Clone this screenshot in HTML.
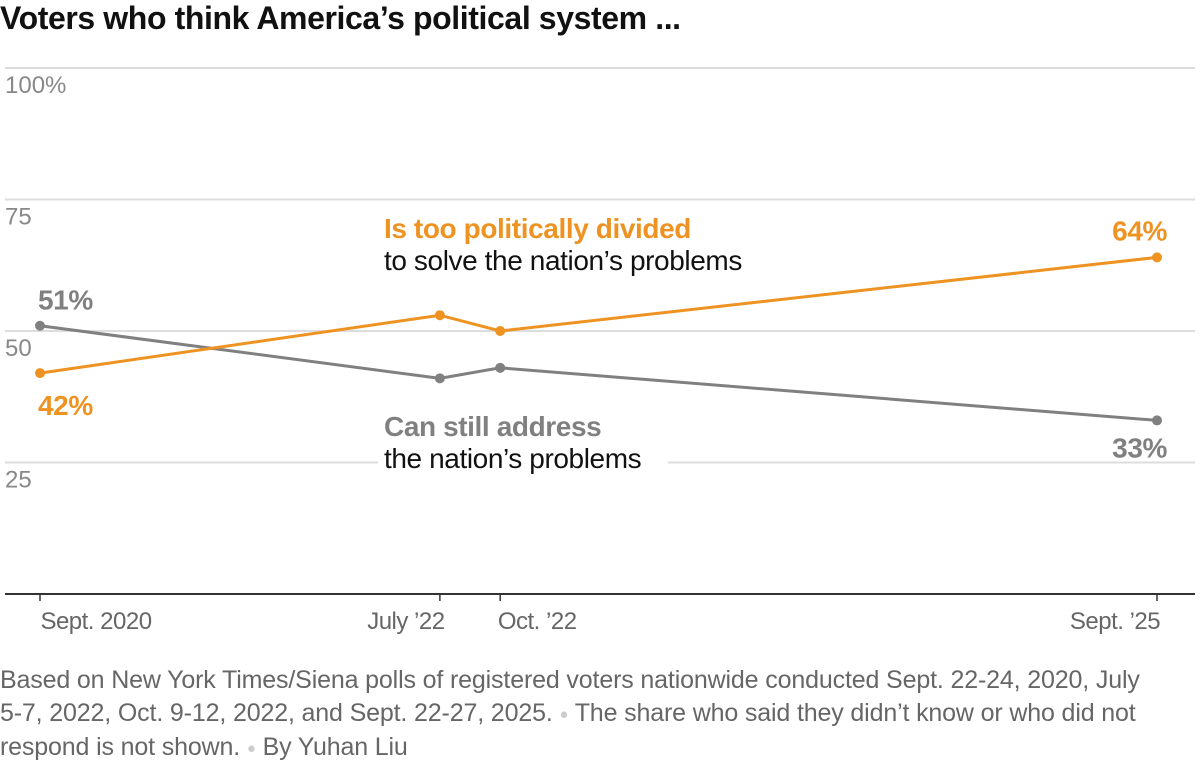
<!DOCTYPE html>
<html><head><meta charset="utf-8"><style>
body{margin:0;background:#fff;width:1200px;height:776px;overflow:hidden;font-family:"Liberation Sans",sans-serif;}
#title{position:absolute;left:0;top:0px;font-size:32px;font-weight:bold;color:#111;letter-spacing:-0.4px;}
#note{position:absolute;left:0;top:664px;white-space:nowrap;font-size:25px;line-height:32.5px;color:#666;letter-spacing:-0.15px;}
.dot{color:#ccc;font-size:15px;vertical-align:2px;}
</style></head><body>
<div id="title">Voters who think America’s political system ...</div>
<svg id="chart" width="1200" height="660" style="position:absolute;left:0;top:0"></svg>
<div id="note">Based on New York Times/Siena polls of registered voters nationwide conducted Sept. 22-24, 2020, July<br>5-7, 2022, Oct. 9-12, 2022, and Sept. 22-27, 2025. <span class="dot">●</span> The share who said they didn’t know or who did not<br>respond is not shown. <span class="dot">●</span> By Yuhan Liu</div>
<script>
const dates=[2020.72,2022.51,2022.78,2025.72];
const xLabels=["Sept. 2020","July ’22","Oct. ’22","Sept. ’25"];
const divided=[42,53,50,64];
const address=[51,41,43,33];
const yTicks=[25,50,75,100];
const yTickLabels=["25","50","75","100%"];
const svg=document.getElementById('chart');
const NS='http://www.w3.org/2000/svg';
const x=d=>40+(d-2020.72)/(2025.72-2020.72)*1117;
const y=v=>594-v*5.26;
function mk(t,a,p){const e=document.createElementNS(NS,t);for(const k in a)e.setAttribute(k,a[k]);(p||svg).appendChild(e);return e;}
yTicks.forEach((t,i)=>{
 const g=mk('line',{x1:5,x2:1195,y1:y(t),y2:y(t),stroke:'#ddd','stroke-width':2});
 
 
 const l=mk('text',{x:5,y:y(t)+25,'font-size':24,fill:'#888'});
 l.textContent=yTickLabels[i];
 
 
});
const base=mk('line',{x1:5,x2:1195,y1:594,y2:594,stroke:'#333','stroke-width':2});


const offs=[56,-34,37,-42];
dates.forEach((d,i)=>{
 const tk=mk('line',{x1:x(d),x2:x(d),y1:594,y2:601,stroke:'#333','stroke-width':1.5});
 
 
 const t=mk('text',{x:x(d)+offs[i],y:629,'font-size':24,fill:'#666','text-anchor':'middle','letter-spacing':-0.5});
 t.textContent=xLabels[i];
 
 
});
function txt(s,xx,yy,col,bold,name){const t=mk('text',{x:xx,y:yy,'font-size':28,'font-weight':bold?'bold':'normal',fill:col,'letter-spacing':-0.4});t.textContent=s;return t;}
const m=mk('rect',{x:378,y:440,width:290,height:36,fill:'#fff'});


function series(vals,col,name){
 const p=mk('polyline',{points:vals.map((v,i)=>x(dates[i])+','+y(v)).join(' '),fill:'none',stroke:col,'stroke-width':3});
 
 
 vals.forEach((v,i)=>{const c=mk('circle',{cx:x(dates[i]),cy:y(v),r:5,fill:col});
  
  });
}
series(address,'#808080','address');
series(divided,'#ee9322','divided');
txt('Is too politically divided',384,238,'#ee9322',true,'divided-label');
txt('to solve the nation’s problems',384,270,'#111',false,'divided-sublabel');
txt('Can still address',384,436,'#808080',true,'address-label');
txt('the nation’s problems',384,468,'#111',false,'address-sublabel');
txt(address[0]+'%',38,y(address[0])-16,'#808080',true,'address-start-value');
txt(divided[0]+'%',38,y(divided[0])+42,'#ee9322',true,'divided-start-value');
const e1=txt(divided[3]+'%',1167,y(divided[3])-17,'#ee9322',true,'divided-end-value');e1.setAttribute('text-anchor','end');
const e2=txt(address[3]+'%',1167,y(address[3])+37,'#808080',true,'address-end-value');e2.setAttribute('text-anchor','end');
</script>
</body></html>
